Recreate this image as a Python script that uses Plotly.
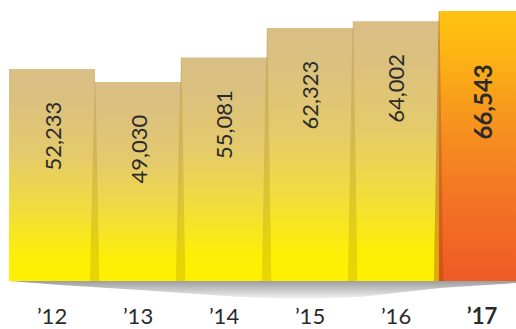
import plotly.graph_objects as go

# ---- data ----
years = ["’12", "’13", "’14", "’15", "’16", "’17"]
values = [52233, 49030, 55081, 62323, 64002, 66543]
value_labels = ["52,233", "49,030", "55,081", "62,323", "64,002", "66,543"]

W, H = 516, 329
PLOT_BOTTOM_PX = 281          # pixel row of the bar baseline
UNITS_PER_PX = 246.4          # y data units per pixel
X_LEFT = -0.605               # x range start (category units)
PX_PER_CAT = 86.0
AXIS_PX = 281                 # pixel row of the (invisible) category axis line

y_hi = PLOT_BOTTOM_PX * UNITS_PER_PX
y_lo = -(H - PLOT_BOTTOM_PX) * UNITS_PER_PX
x_hi = X_LEFT + W / PX_PER_CAT

tan_scale = [[0.0, "#FFF100"], [0.12, "#FDEE08"], [0.35, "#F1DC40"],
             [0.6, "#E4CA6C"], [0.85, "#DBC17F"], [1.0, "#D9BF86"]]
orange_scale = [[0.0, "#EF5A24"], [0.3, "#F37425"], [0.6, "#F7951E"],
                [0.85, "#FDB514"], [1.0, "#FFC30F"]]

fig = go.Figure()

# shadow under the bars (decoration)
sh_px = [9, 60, 140, 240, 300, 360, 440, 516]
sh_depth = [0, 4, 9, 16, 18, 16, 7, 2]
sx = [X_LEFT + p / PX_PER_CAT for p in sh_px]
sy = [-d * UNITS_PER_PX for d in sh_depth]
fig.add_trace(go.Scatter(
    x=[sx[0]] + sx + [sx[-1], sx[0]],
    y=[0] + sy + [0, 0],
    fill="toself", mode="none", hoverinfo="skip", showlegend=False,
    fillgradient=dict(type="vertical",
                      colorscale=[[0, "#F4F4F4"], [0.5, "#C8C8C8"], [1, "#9E9E9E"]]),
))

# bars
for i, v in enumerate(values):
    cs = orange_scale if i == len(values) - 1 else tan_scale
    fig.add_trace(go.Scatter(
        x=[i - 0.5, i + 0.5, i + 0.5, i - 0.5, i - 0.5],
        y=[0, 0, v, v, 0],
        fill="toself", mode="none", hoverinfo="skip", showlegend=False,
        fillgradient=dict(type="vertical", colorscale=cs),
    ))

# subtle fold shading at bar joins
for i in range(1, len(values)):
    v = values[i]
    x0 = i - 0.5
    col = "rgba(170,70,10,0.40)" if i == len(values) - 1 else "rgba(150,120,0,0.22)"
    fig.add_trace(go.Scatter(
        x=[x0 - 0.06, x0 + 0.05, x0 + 0.005, x0 - 0.005, x0 - 0.06],
        y=[0, 0, v, v, 0],
        fill="toself", mode="none", fillcolor=col,
        hoverinfo="skip", showlegend=False,
    ))

# value labels
for i, (v, t) in enumerate(zip(values, value_labels)):
    last = i == len(values) - 1
    fig.add_annotation(
        x=i, y=v, xref="x", yref="y",
        text=f"<b>{t}</b>" if last else t,
        textangle=-90, showarrow=False,
        xanchor="center", yanchor="top",
        yshift=-52 if last else -31,
        font=dict(family="Lato", size=24 if last else 22, color="#2a2a2a",
                  weight=700 if last else 400),
    )

ticktext = [f"<b>{y}</b>" if i == len(years) - 1 else y for i, y in enumerate(years)]

fig.update_layout(
    width=W, height=H,
    margin=dict(l=0, r=0, t=0, b=0, autoexpand=False),
    paper_bgcolor="white", plot_bgcolor="white",
    showlegend=False,
    xaxis=dict(range=[X_LEFT, x_hi], tickvals=list(range(len(years))), ticktext=ticktext,
               showgrid=False, zeroline=False, showline=False, ticks="",
               anchor="free", position=(H - AXIS_PX) / H, automargin=False,
               ticklabelstandoff=20,
               tickfont=dict(family="Lato", size=22, color="#2a2a2a")),
    yaxis=dict(range=[y_lo, y_hi], visible=False, showgrid=False, zeroline=False,
               automargin=False),
)

fig.write_html("out.html", config={"displayModeBar": False},
               post_script="document.body.style.margin='0';")
